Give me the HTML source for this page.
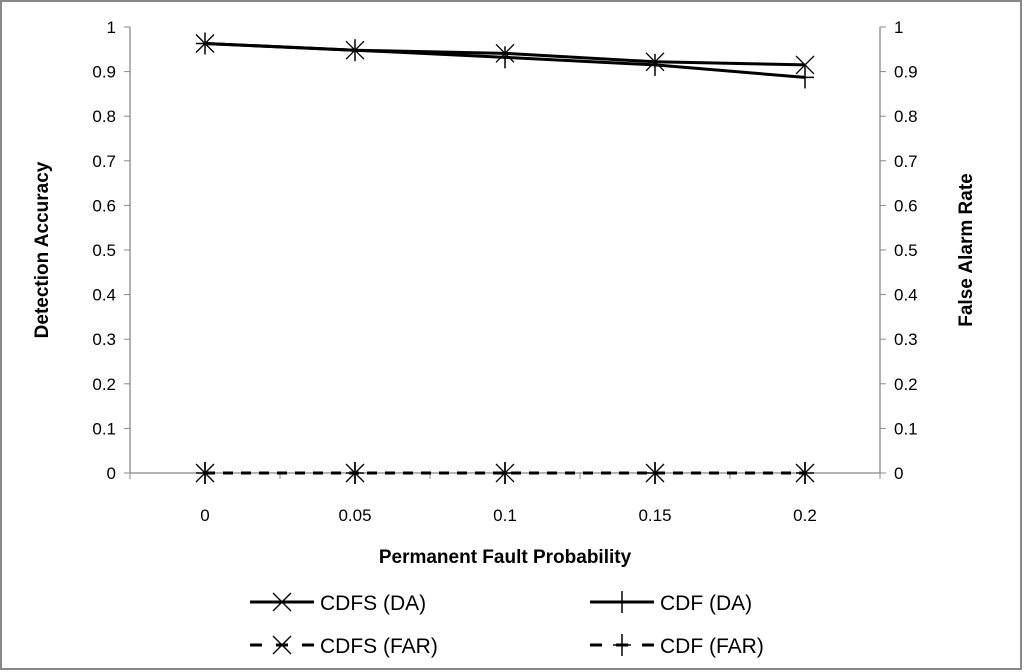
<!DOCTYPE html>
<html><head><meta charset="utf-8"><style>
html,body{margin:0;padding:0;background:#fff;}
svg{display:block;font-family:"Liberation Sans",Calibri,sans-serif;}
</style></head><body>
<svg id="chart" width="1024" height="672" viewBox="0 0 1024 672">
<rect x="1" y="1" width="1020" height="668" fill="#fff" stroke="#888" stroke-width="2"/>
<g id="grid"></g>
<g id="marks"></g>
<text x="48" y="250" font-size="19" font-weight="bold" text-anchor="middle" transform="rotate(-90 48 250)">Detection Accuracy</text>
<text x="972" y="250" font-size="19" font-weight="bold" text-anchor="middle" transform="rotate(-90 972 250)">False Alarm Rate</text>
<text x="505" y="563" font-size="19" font-weight="bold" text-anchor="middle">Permanent Fault Probability</text>
<g id="legend"></g>
</svg>
<script>
const categories = ["0","0.05","0.1","0.15","0.2"];
const cdfsDA = [0.963,0.948,0.941,0.922,0.915];
const cdfDA = [0.963,0.948,0.932,0.915,0.887];
const cdfsFAR = [0,0,0,0,0];
const cdfFAR = [0,0,0,0,0];
const yTicks = ["0","0.1","0.2","0.3","0.4","0.5","0.6","0.7","0.8","0.9","1"];
const NS="http://www.w3.org/2000/svg";
const L=130,R=880,T=27,B=473;
const xs=i=>L+(R-L)/categories.length*(i+0.5);
const ys=v=>B-(B-T)*v;
function mk(tag,attrs,parent){const e=document.createElementNS(NS,tag);for(const k in attrs)e.setAttribute(k,attrs[k]);parent.appendChild(e);return e;}
const grid=document.getElementById('grid'),marks=document.getElementById('marks'),leg=document.getElementById('legend');
let a=mk('line',{x1:L,y1:T,x2:L,y2:B,stroke:'#888','stroke-width':1.3},grid);

a=mk('line',{x1:R,y1:T,x2:R,y2:B,stroke:'#888','stroke-width':1.3},grid);

a=mk('line',{x1:L,y1:B,x2:R,y2:B,stroke:'#888','stroke-width':1.3},grid);

yTicks.forEach(t=>{const y=ys(parseFloat(t));
 mk('line',{x1:L-6,y1:y,x2:L,y2:y,stroke:'#888'},grid);
 mk('line',{x1:R,y1:y,x2:R+6,y2:y,stroke:'#888'},grid);
 let e=mk('text',{x:L-14,y:y+6,'font-size':17,'text-anchor':'end'},grid);e.textContent=t;
 
 e=mk('text',{x:R+14,y:y+6,'font-size':17},grid);e.textContent=t;
 
});
for(let i=0;i<=categories.length;i++){const x=L+(R-L)/categories.length*i;mk('line',{x1:x,y1:B,x2:x,y2:B+6,stroke:'#888'},grid);}
categories.forEach((c,i)=>{const e=mk('text',{x:xs(i),y:B+48,'font-size':17,'text-anchor':'middle'},grid);e.textContent=c;
 });
function marker(type,x,y,p){
 const s=9;
 if(type==='x'||type==='star'){mk('line',{x1:x-s,y1:y-s,x2:x+s,y2:y+s,stroke:'#000','stroke-width':1.3},p);mk('line',{x1:x-s,y1:y+s,x2:x+s,y2:y-s,stroke:'#000','stroke-width':1.3},p);}
 if(type==='plus'||type==='star'){mk('line',{x1:x,y1:y-s-2,x2:x,y2:y+s+2,stroke:'#000','stroke-width':1.5},p);}
 if(type==='plus')mk('line',{x1:x-s,y1:y,x2:x+s,y2:y,stroke:'#000','stroke-width':1.5},p);
}
function series(vals,name,dash,type){
 const g=mk('g',{},marks);
 const pl=mk('polyline',{points:vals.map((v,i)=>xs(i)+','+ys(v)).join(' '),fill:'none',stroke:'#000','stroke-width':3,'stroke-dasharray':dash},g);
 vals.forEach((v,i)=>marker(type,xs(i),ys(v),g));
}
series(cdfsDA,'series-cdfs-da','none','x');
series(cdfDA,'series-cdf-da','none','plus');
series(cdfsFAR,'series-cdfs-far','10,8','star');
series(cdfFAR,'series-cdf-far','10,8','plus');
const items=[["CDFS (DA)",'none','x',250,602],["CDF (DA)",'none','plus',590,602],["CDFS (FAR)",'10,8','x',250,645],["CDF (FAR)",'10,8','plus',590,645]];
items.forEach(it=>{const g=mk('g',{},leg);
 mk('line',{x1:it[3],y1:it[4],x2:it[3]+64,y2:it[4],stroke:'#000','stroke-width':3,'stroke-dasharray':it[1]==='none'?'none':'12,14'},g);
 marker(it[2],it[3]+32,it[4],g);
 const t=mk('text',{x:it[3]+70,y:it[4]+8,'font-size':21},g);t.textContent=it[0];});
</script>
</body></html>
